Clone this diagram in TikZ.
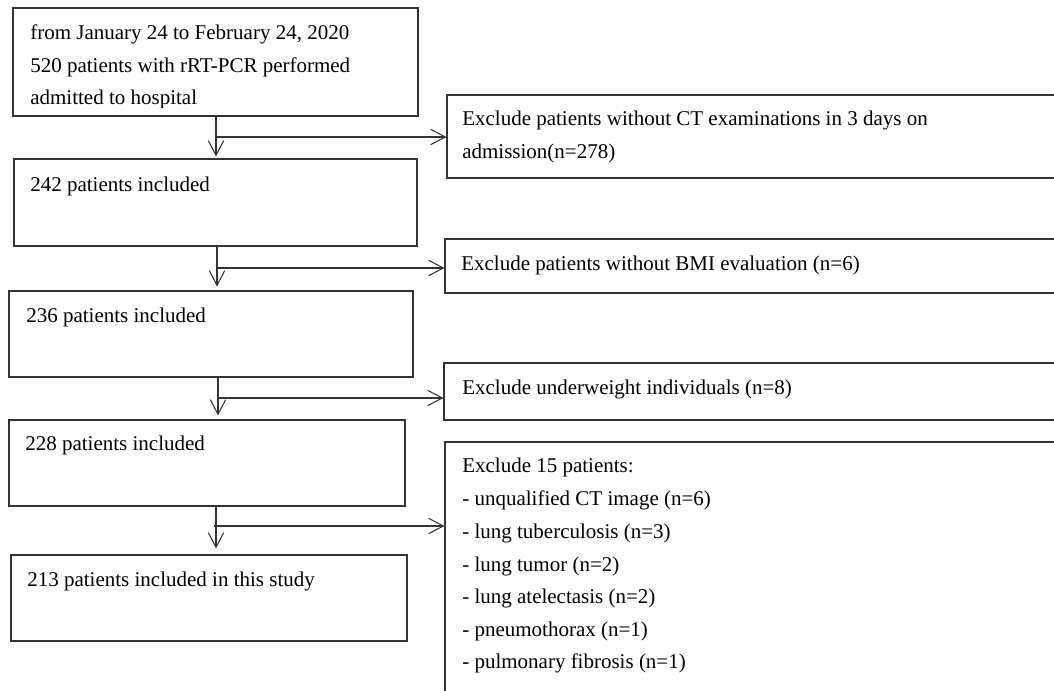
\documentclass[tikz,border=0pt]{standalone}
\usepackage{fontspec}
\setmainfont{Liberation Serif}
\usetikzlibrary{arrows.meta,fit}
\begin{document}
\begin{tikzpicture}[x=0.75pt,y=-0.75pt,
  box/.style={draw=black!80, line width=0.8pt, inner sep=0pt},
  txt/.style={anchor=base west, inner sep=0pt, font=\fontsize{15.75}{19}\selectfont, text=black},
  arr/.style={draw=black!80, line width=0.8pt, -{Straight Barb[length=11pt,width=11.5pt]}}]
\clip (0,0) rectangle (1054,691);
\fill[white] (0,0) rectangle (1054,691);
% left column boxes
\node[box, fit={(13,8) (418,116)}] (b1) {};
\node[box, fit={(14,159) (417,246)}] (b2) {};
\node[box, fit={(9,291) (413,377)}] (b3) {};
\node[box, fit={(9,420) (405,506)}] (b4) {};
\node[box, fit={(11,555) (407,641)}] (b5) {};
% right column boxes (cut by the right edge)
\node[box, fit={(447,95) (1070,178)}] (r1) {};
\node[box, fit={(445,239) (1070,293)}] (r2) {};
\node[box, fit={(444,363) (1070,420)}] (r3) {};
\node[box, fit={(445,442) (1070,710)}] (r4) {};
% texts
\node[txt] (t1a) at (30,40) {from January 24 to February 24, 2020};
\node[txt] (t1b) at (30,73) {520 patients with rRT-PCR performed};
\begin{scope}
\clip (14,80) rectangle (417,107.5);
\node[txt] (t1c) at (30,105) {admitted to hospital};
\end{scope}
\node[txt] (t2) at (30,192) {242 patients included};
\node[txt] (t3) at (26,323) {236 patients included};
\node[txt] (t4) at (25,451) {228 patients included};
\node[txt] (t5) at (27,587) {213 patients included in this study};
\node[txt] (u1a) at (462,126) {Exclude patients without CT examinations in 3 days on};
\node[txt] (u1b) at (462,159) {admission(n=278)};
\node[txt] (u2) at (461,271) {Exclude patients without BMI evaluation (n=6)};
\node[txt] (u3) at (462,395) {Exclude underweight individuals (n=8)};
\node[txt] (u4a) at (462,473) {Exclude 15 patients:};
\node[txt] (u4b) at (462,506) {- unqualified CT image (n=6)};
\node[txt] (u4c) at (462,539) {- lung tuberculosis (n=3)};
\node[txt] (u4d) at (462,571) {- lung tumor (n=2)};
\node[txt] (u4e) at (462,604) {- lung atelectasis (n=2)};
\node[txt] (u4f) at (462,636) {- pneumothorax (n=1)};
\node[txt] (u4g) at (462,668) {- pulmonary fibrosis (n=1)};
% connectors
\coordinate (c1) at (216,0);
\coordinate (c2) at (217,0);
\coordinate (c3) at (218,0);
\coordinate (c4) at (216,0);
\draw[arr, shorten >=1.5pt] (b1.south -| c1) -- (b2.north -| c1);
\draw[arr, shorten >=3pt] (b2.south -| c2) -- (b3.north -| c2);
\draw[arr, shorten >=3pt] (b3.south -| c3) -- (b4.north -| c3);
\draw[arr, shorten >=4.5pt] (b4.south -| c4) -- (b5.north -| c4);
\coordinate (j1) at (216,137);
\coordinate (j2) at (217,268);
\coordinate (j3) at (218,398);
\coordinate (j4) at (214,526);
\draw[arr] (j1) -- (j1 -| r1.west);
\draw[arr] (j2) -- (j2 -| r2.west);
\draw[arr] (j3) -- (j3 -| r3.west);
\draw[arr] (j4) -- (j4 -| r4.west);
\end{tikzpicture}
\end{document}
